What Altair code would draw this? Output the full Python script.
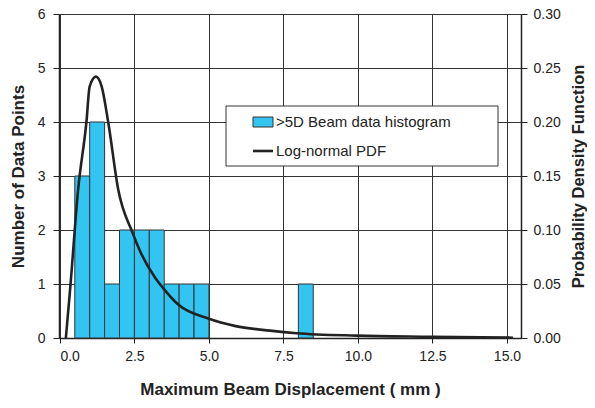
import altair as alt
import pandas as pd

# Histogram bins (mm) and counts
bin_start = [0.5, 1.0, 1.5, 2.0, 2.5, 3.0, 3.5, 4.0, 4.5, 8.0]
bin_end = [1.0, 1.5, 2.0, 2.5, 3.0, 3.5, 4.0, 4.5, 5.0, 8.5]
counts = [3, 4, 1, 2, 2, 2, 1, 1, 1, 1]

# Log-normal PDF
pdf_x = [0.2, 0.34, 0.61, 0.89, 1.0, 1.21, 1.4, 1.62, 1.96, 2.43, 2.68, 3.19, 3.47,
         3.97, 4.98, 5.9, 7.05, 7.94, 9.96, 12.47, 15.2]
pdf_y = [0.0, 0.044, 0.137, 0.2, 0.233, 0.242, 0.233, 0.2, 0.137, 0.098, 0.081, 0.056,
         0.046, 0.031, 0.018, 0.011, 0.0068, 0.0044, 0.0022, 0.0012, 0.0003]

x_ticks = [0, 2.5, 5.0, 7.5, 10.0, 12.5, 15.0]
left_ticks = [0, 1, 2, 3, 4, 5, 6]
right_ticks = [0, 0.05, 0.10, 0.15, 0.20, 0.25, 0.30]

legend_labels = [">5D Beam data histogram", "Log-normal PDF"]

FONT = "Liberation Sans"
BAR_FILL = "#33C5F2"
INK = "#222222"

hist_df = pd.DataFrame({"start": bin_start, "end": bin_end, "count": counts})
pdf_df = pd.DataFrame({"x": pdf_x, "y": pdf_y})

xscale = alt.Scale(domain=[-0.03, 15.47], nice=False, zero=False)

x_axis = alt.Axis(
    values=x_ticks, format=".1f", title="Maximum Beam Displacement ( mm )",
    grid=True, gridColor="#333333", gridWidth=1,
    tickSize=5, labelPadding=6, labelFontSize=14, labelFont=FONT, labelColor=INK,
    titleFont=FONT, titleFontSize=17, titleFontWeight="bold", titleColor=INK,
    titleY=51, titleBaseline="middle", domainColor=INK, domainWidth=1.5,
    tickColor=INK,
)

bars = alt.Chart(hist_df).mark_bar(
    fill=BAR_FILL, stroke="#333333", strokeWidth=1
).encode(
    x=alt.X("start:Q", scale=xscale, axis=x_axis),
    x2="end:Q",
    y=alt.Y("count:Q", scale=alt.Scale(domain=[0, 6], nice=False),
            axis=alt.Axis(values=left_ticks, format="d", title="Number of Data Points",
                          grid=True, gridColor="#333333", gridWidth=1,
                          tickSize=6, labelPadding=8, labelFontSize=14, labelFont=FONT,
                          labelColor=INK, titleFont=FONT, titleFontSize=17,
                          titleFontWeight="bold", titleColor=INK,
                          titleX=-41, titleBaseline="middle",
                          domainColor=INK, domainWidth=1.5, tickColor=INK)),
    y2=alt.datum(0),
)

line = alt.Chart(pdf_df).mark_line(
    color=INK, strokeWidth=2.6, interpolate="monotone", clip=True
).encode(
    x=alt.X("x:Q", scale=xscale),
    y=alt.Y("y:Q", scale=alt.Scale(domain=[0, 0.30], nice=False),
            axis=alt.Axis(orient="right", values=right_ticks, format=".2f",
                          title="Probability Density Function", grid=False,
                          tickSize=6, labelPadding=6, labelFontSize=14, labelFont=FONT,
                          labelColor=INK, titleFont=FONT, titleFontSize=16.5,
                          titleFontWeight="bold", titleColor=INK, titleAngle=270,
                          titleX=57, titleBaseline="middle",
                          domainColor=INK, domainWidth=1.5, tickColor=INK)),
)

one = pd.DataFrame({"a": [0]})

legend_box = alt.Chart(one).mark_rect(
    fill="white", stroke="#333333", strokeWidth=1
).encode(x=alt.value(167), x2=alt.value(439), y=alt.value(92), y2=alt.value(152))

legend_swatch = alt.Chart(one).mark_rect(
    fill=BAR_FILL, stroke="#333333", strokeWidth=1
).encode(x=alt.value(194), x2=alt.value(214), y=alt.value(103), y2=alt.value(113))

legend_line = alt.Chart(one).mark_rule(
    color=INK, strokeWidth=2.6
).encode(x=alt.value(194), x2=alt.value(214), y=alt.value(137))

legend_text1 = alt.Chart(one).mark_text(
    text=legend_labels[0], align="left", baseline="middle", font=FONT, fontSize=15,
    color=INK
).encode(x=alt.value(217), y=alt.value(108))

legend_text2 = alt.Chart(one).mark_text(
    text=legend_labels[1], align="left", baseline="middle", font=FONT, fontSize=15,
    color=INK
).encode(x=alt.value(217), y=alt.value(137))

chart = alt.layer(
    bars, line, legend_box, legend_swatch, legend_line, legend_text1, legend_text2
).resolve_scale(y="independent").properties(
    width=462, height=324,
    autosize=alt.AutoSizeParams(type="none"),
    padding={"left": 51, "top": 6, "right": 66, "bottom": 62},
).configure_view(stroke=INK, strokeWidth=1.5).configure(background="white")

chart.save("out.html", embed_options={"renderer": "svg", "actions": False})
